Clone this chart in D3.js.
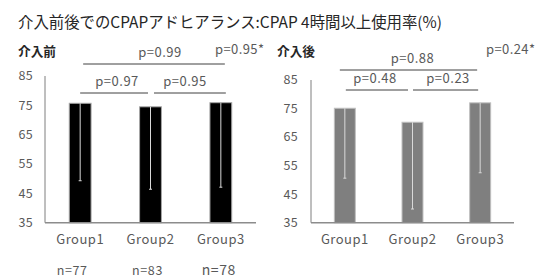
<!DOCTYPE html>
<html><head><meta charset="utf-8">
<script src="https://cdn.jsdelivr.net/npm/d3@7"></script>
<style>body{margin:0;background:#fff}svg{display:block}text{font-family:"Noto Sans CJK JP","Noto Sans",sans-serif}</style>
</head><body>
<svg id="c" width="535" height="279"></svg>
<script>
const categories = ["Group1","Group2","Group3"];
const beforeMeans = [75.7, 74.5, 75.9];
const beforeLower = [49.3, 46.4, 47.1];
const afterMeans = [75.1, 70.2, 77.0];
const afterLower = [50.6, 39.8, 52.5];
const yTicks = [35,45,55,65,75,85];
const nLabels = ["n=77","n=83","n=78"];
const beforePairs = [{a:0,b:1,p:"p=0.97",lvl:0},{a:1,b:2,p:"p=0.95",lvl:0},{a:0,b:2,p:"p=0.99",lvl:1}];
const afterPairs = [{a:0,b:1,p:"p=0.48",lvl:0},{a:1,b:2,p:"p=0.23",lvl:0},{a:0,b:2,p:"p=0.88",lvl:1}];
const beforeOverall = "p=0.95*";
const afterOverall = "p=0.24*";

const svg = d3.select("#c");
svg.append("text").attr("x",18).attr("y",28).attr("font-size",15.4).attr("fill","#262626")
  .text("介入前後でのCPAPアドヒアランス:CPAP 4時間以上使用率(%)");

function panel(o){
  const x = d3.scaleBand().domain(categories).range([o.x0,o.x1]).paddingInner(0.69).paddingOuter(0.345);
  const cx = i => x(categories[i]) + x.bandwidth()/2;
  const y = d3.scaleLinear().domain([35,85]).range([222.7,o.top]);
  const g = svg.append("g");
  g.append("text").attr("x",o.labX).attr("y",56).attr("font-size",12.7).attr("font-weight","bold").attr("fill","#262626").text(o.title);
  g.selectAll(".yt").data(yTicks).enter().append("text")
    .attr("x",o.tickX).attr("y",d=>y(d)).attr("dy","0.35em").attr("text-anchor","end")
    .attr("font-size",12.5).attr("letter-spacing",0.3).attr("fill","#595959").text(d=>d);
  g.append("line").attr("x1",o.x0).attr("x2",o.x0).attr("y1",y(85)).attr("y2",y(35)).attr("stroke","#7f7f7f").attr("stroke-width",1);
  g.selectAll(".bar").data(o.means).enter().append("rect")
    .attr("x",(d,i)=>x(categories[i])).attr("width",x.bandwidth())
    .attr("y",d=>y(d)).attr("height",d=>y(35)-y(d))
    .attr("fill",o.fill).attr("stroke",o.stroke).attr("stroke-width",1);
  g.selectAll(".err").data(o.lower).enter().append("line")
    .attr("x1",(d,i)=>cx(i)).attr("x2",(d,i)=>cx(i))
    .attr("y1",(d,i)=>y(o.means[i])).attr("y2",d=>y(d)).attr("stroke","#d9d9d9").attr("stroke-width",1);
  g.selectAll(".cap").data(o.lower).enter().append("line")
    .attr("x1",(d,i)=>cx(i)-1.5).attr("x2",(d,i)=>cx(i)+1.5)
    .attr("y1",d=>y(d)).attr("y2",d=>y(d)).attr("stroke","#d9d9d9").attr("stroke-width",1);
  g.append("line").attr("x1",o.x0).attr("x2",o.x1).attr("y1",y(35)).attr("y2",y(35)).attr("stroke","#8c8c8c").attr("stroke-width",1.5);
  g.selectAll(".xl").data(categories).enter().append("text")
    .attr("x",d=>x(d)+x.bandwidth()/2).attr("y",244).attr("text-anchor","middle")
    .attr("font-size",13).attr("letter-spacing",0.5).attr("fill","#595959").text(d=>d);
  o.pairs.forEach((p,k)=>{
    const ly = p.lvl ? o.br1 : o.br0;
    const xa = cx(p.a) + o.ends[k][0], xb = cx(p.b) + o.ends[k][1];
    g.append("line").attr("x1",xa).attr("x2",xb).attr("y1",ly).attr("y2",ly).attr("stroke","#404040").attr("stroke-width",1);
    g.append("text").attr("x",(xa+xb)/2 + o.ends[k][2]).attr("y",ly-7).attr("text-anchor","middle")
      .attr("font-size",13).attr("letter-spacing",0.5).attr("fill","#595959").text(p.p);
  });
  g.append("text").attr("x",o.ovX).attr("y",54).attr("font-size",13).attr("letter-spacing",0.4).attr("fill","#595959").text(o.overall);
  return x;
}

const xb = panel({x0:45,x1:256,top:76,labX:18,tickX:33,title:"介入前",means:beforeMeans,lower:beforeLower,
  fill:"#000000",stroke:"#a6a6a6",pairs:beforePairs,br0:93,br1:64,ovX:215,overall:beforeOverall,
  ends:[[0,-2.5,3],[3.5,5,-5],[3,4,6]]});
panel({x0:311,x1:514,top:80,labX:277,tickX:298,title:"介入後",means:afterMeans,lower:afterLower,
  fill:"#7f7f7f",stroke:"#bfbfbf",pairs:afterPairs,br0:90,br1:70,ovX:486,overall:afterOverall,
  ends:[[1,-4.5,-2],[0.5,-2,2.5],[-5,-3,4]]});

svg.selectAll(".n").data(nLabels).enter().append("text")
  .attr("x",(d,i)=>xb(categories[i])+xb.bandwidth()/2 + [-8,-3,-2][i]).attr("y",274.5).attr("text-anchor","middle")
  .attr("font-size",(d,i)=>i===2?14:12.5).attr("letter-spacing",0.6).attr("fill","#595959").text(d=>d);
</script>
</body></html>
